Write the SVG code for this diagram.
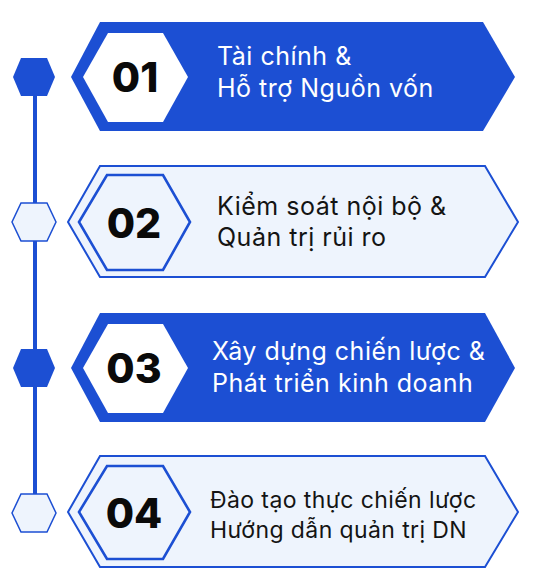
<svg xmlns="http://www.w3.org/2000/svg" width="535" height="580" viewBox="0 0 535 580">
<style>
.dark{fill:#1c4fd3}
.light{fill:#eef4fd;stroke:#1c4fd3;stroke-width:2;stroke-linejoin:miter}
.inner{fill:#eef4fd;stroke:#1c4fd3;stroke-width:2.6}
.tl-light{fill:#eef4fd;stroke:#1c4fd3;stroke-width:1.5}
.num{font-family:Inter,"Liberation Sans",sans-serif;font-weight:800;font-size:41px;fill:#0a0a0a;text-anchor:middle}
.lbl{font-family:Inter,"Noto Sans","Liberation Sans",sans-serif;font-size:25px;letter-spacing:0.5px}
.sm{font-size:23px;letter-spacing:0.4px}
.w{fill:#ffffff}
.b{fill:#141414}
</style>
<rect width="535" height="580" fill="#ffffff"/>
<g id="connectors">
<line x1="35" y1="77" x2="35" y2="500" stroke="#1c4fd3" stroke-width="4"/>
</g>
<g id="timeline-1"><polygon class="dark" points="21,58 47,58 55,77 47,96 21,96 13,77"/></g>
<g id="timeline-2"><polygon class="tl-light" points="21,203 47,203 56,222 47,241 21,241 12,222"/></g>
<g id="timeline-3"><polygon class="dark" points="21,349 47,349 55,368 47,387 21,387 13,368"/></g>
<g id="timeline-4"><polygon class="tl-light" points="21,494 47,494 56,513 47,532 21,532 12,513"/></g>

<g id="node-01">
<polygon class="dark" points="100,22 483,22 515,77 483,131 100,131 71,77"/>
<polygon fill="#ffffff" points="108,33 163,33 188,77 163,122 108,122 83,77"/>
<text class="num" x="135" y="92">01</text>
<text class="lbl w" x="217" y="65">Tài chính &amp;</text>
<text class="lbl w" x="217" y="97">Hỗ trợ Nguồn vốn</text>
</g>

<g id="node-02">
<polygon class="light" points="100,166 485,166 518,222 485,277 100,277 68,222"/>
<polygon class="inner" points="107,175 163,175 190,222 163,270 107,270 79,222"/>
<text class="num" x="134" y="238">02</text>
<text class="lbl b" x="217" y="215">Kiểm soát nội bộ &amp;</text>
<text class="lbl b" x="217" y="246">Quản trị rủi ro</text>
</g>

<g id="node-03">
<polygon class="dark" points="100,313 485,313 515,368 485,422 100,422 71,368"/>
<polygon fill="#ffffff" points="108,324 163,324 188,368 163,413 108,413 83,368"/>
<text class="num" x="134" y="383">03</text>
<text class="lbl w" x="212" y="360">Xây dựng chiến lược &amp;</text>
<text class="lbl w" x="212" y="392">Phát triển kinh doanh</text>
</g>

<g id="node-04">
<polygon class="light" points="100,456 485,456 518,512 485,567 100,567 68,512"/>
<polygon class="inner" points="107,466 163,466 190,512 163,559 107,559 79,512"/>
<text class="num" x="134" y="528">04</text>
<text class="lbl b sm" x="210" y="508">Đào tạo thực chiến lược</text>
<text class="lbl b sm" x="210" y="538">Hướng dẫn quản trị DN</text>
</g>
</svg>
